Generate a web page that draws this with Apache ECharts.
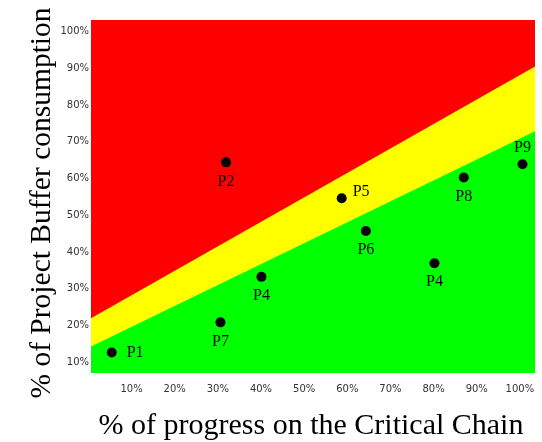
<!DOCTYPE html>
<html>
<head>
<meta charset="utf-8">
<script src="https://cdn.jsdelivr.net/npm/echarts@6/dist/echarts.min.js"></script>
<style>
html,body{margin:0;padding:0;background:#fff;}
#chart{width:542px;height:442px;}
</style>
</head>
<body>
<div id="chart"></div>
<script>
// ---- data ----
const projectNames = ['P1', 'P2', 'P7', 'P4', 'P5', 'P6', 'P4', 'P8', 'P9'];
const progressPct  = [5.4, 31.9, 30.6, 40.1, 58.7, 64.3, 80.2, 87.0, 100.6];
const bufferPct    = [12.6, 64.4, 20.8, 33.2, 54.6, 45.7, 36.9, 60.3, 63.9];

const xTicks = [10, 20, 30, 40, 50, 60, 70, 80, 90, 100];
const yTicks = [10, 20, 30, 40, 50, 60, 70, 80, 90, 100];

const xRange = [0.6, 103.5];
const yRange = [7, 103.2];

// zone boundaries (buffer % at left and right edges)
const redYellowEdge   = [21.9, 90.5];
const yellowGreenEdge = [14.2, 72.9];

// label placement per point (style)
function labelFor(i) {
  const n = projectNames[i];
  if (n === 'P1') return {position: 'right', distance: 10};
  if (n === 'P5') return {position: 'right', distance: 6, offset: [0, -7]};
  if (n === 'P9') return {position: 'top', distance: 3};
  return {position: 'bottom', distance: 6};
}

const chart = echarts.init(document.getElementById('chart'));

const serif = '"Liberation Serif", "Times New Roman", serif';
const tickFont = '"DejaVu Sans", Tahoma, sans-serif';

const points = projectNames.map((n, i) => ({
  value: [progressPct[i], bufferPct[i]],
  name: n,
  label: Object.assign({show: true, formatter: n}, labelFor(i))
}));

chart.setOption({
  animation: false,
  backgroundColor: '#ffffff',
  grid: {left: 91, top: 20, right: 7, bottom: 69},
  xAxis: {
    type: 'value',
    min: xRange[0], max: xRange[1],
    axisLine: {show: false}, axisTick: {show: false}, splitLine: {show: false},
    axisLabel: {
      customValues: xTicks,
      formatter: '{value}%',
      fontFamily: tickFont, fontSize: 10, color: '#333333', margin: 11
    }
  },
  yAxis: {
    type: 'value',
    min: yRange[0], max: yRange[1],
    axisLine: {show: false}, axisTick: {show: false}, splitLine: {show: false},
    axisLabel: {
      customValues: yTicks,
      formatter: '{value}%',
      fontFamily: tickFont, fontSize: 10, color: '#333333', margin: 2
    }
  },
  series: [
    {
      type: 'line', symbol: 'none', silent: true,
      lineStyle: {width: 0},
      areaStyle: {color: '#ff0000', opacity: 1, origin: 'start'},
      data: [[xRange[0], yRange[1]], [xRange[1], yRange[1]]],
      z: 1
    },
    {
      type: 'line', symbol: 'none', silent: true,
      lineStyle: {width: 0},
      areaStyle: {color: '#ffff00', opacity: 1, origin: 'start'},
      data: [[xRange[0], redYellowEdge[0]], [xRange[1], redYellowEdge[1]]],
      z: 2
    },
    {
      type: 'line', symbol: 'none', silent: true,
      lineStyle: {width: 0},
      areaStyle: {color: '#00ff00', opacity: 1, origin: 'start'},
      data: [[xRange[0], yellowGreenEdge[0]], [xRange[1], yellowGreenEdge[1]]],
      z: 3
    },
    {
      type: 'scatter',
      symbol: 'circle', symbolSize: 10,
      itemStyle: {color: '#000000', opacity: 1},
      label: {fontFamily: serif, fontSize: 16, color: '#000000'},
      data: points,
      z: 5
    }
  ],
  graphic: [
    {
      type: 'text',
      x: 42, y: 203,
      rotation: Math.PI / 2,
      style: {
        text: '% of Project Buffer consumption',
        font: '29.5px ' + serif,
        fill: '#000000',
        align: 'center', verticalAlign: 'middle'
      }
    },
    {
      type: 'text',
      x: 311, y: 426,
      style: {
        text: '% of progress on the Critical Chain',
        font: '30px ' + serif,
        fill: '#000000',
        align: 'center', verticalAlign: 'middle'
      }
    }
  ]
});
</script>
</body>
</html>
